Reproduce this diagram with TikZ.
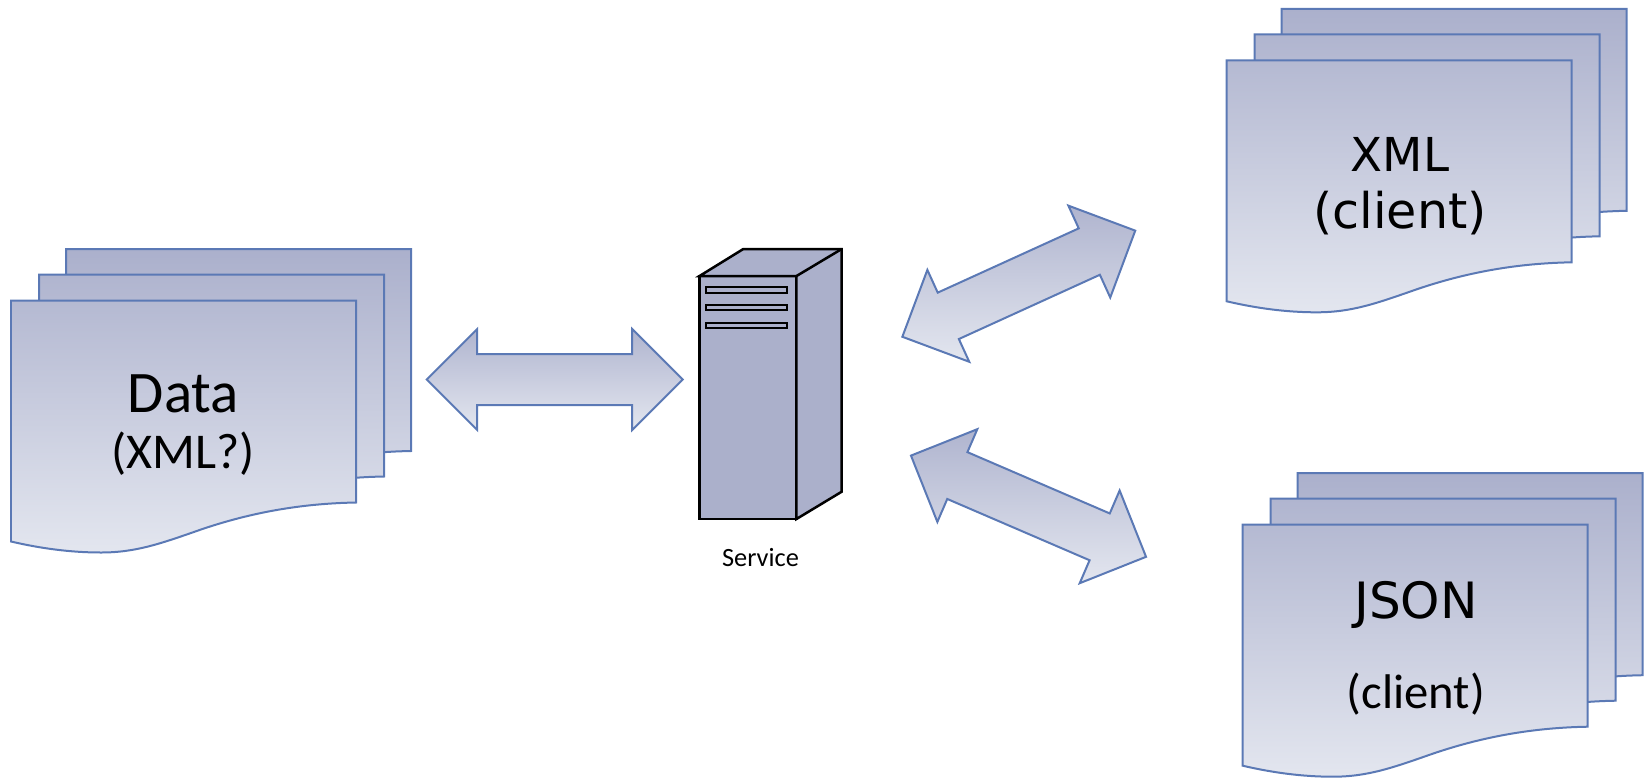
\documentclass[tikz,border=0pt]{standalone}
\usepackage{fontspec}
\setmainfont{Carlito}
\newfontfamily\widefont{DejaVu Sans}
\usetikzlibrary{positioning, shapes.arrows, calc}
\definecolor{sheetdark}{HTML}{ABB0CC}
\definecolor{sheetlight}{HTML}{E3E6EF}
\definecolor{sheetline}{HTML}{5B79B5}
\definecolor{servergrey}{HTML}{ABB0CB}
\begin{document}
\begin{tikzpicture}[
        x=0.02cm, y=-0.02cm,
        sheet/.style={draw=sheetline, line width=0.04cm, line join=miter},
        exchange/.style={draw=sheetline, line width=0.04cm, double arrow, double arrow head extend=0.5cm,
            minimum height=5.12cm, minimum width=2.02cm, inner xsep=0pt, inner ysep=0.49cm,
            top color=sheetdark!92!sheetlight, bottom color=sheetlight},
        servercase/.style={draw=black, line width=0.05cm, fill=servergrey, outer sep=0pt},
        stacklabel/.style={align=center, text=black, inner sep=0pt, font=\fontsize{33.5}{32.3}\selectfont},
        widelabel/.style={stacklabel, font=\widefont\fontsize{26.6}{32.3}\selectfont},
        docstack/.pic={
            \foreach \dx/\dy/\topmix/\botmix in {55/-51.5/0/80, 28/-26/9/90, 0/0/17/100} {
                \draw[sheet, top color=sheetlight!\topmix!sheetdark, bottom color=sheetlight!\botmix!sheetdark, shift={(\dx,\dy)}]
                    (0,0) -- (345,0) -- (345,202)
                    .. controls (290,203) and (240,212) .. (190,229)
                    .. controls (150,243) and (125,252) .. (90,252)
                    .. controls (60,252) and (30,248) .. (0,241) -- cycle;
            }
        }
    ]
    \useasboundingbox (0,0) rectangle (1650,778);

    \pic at (11,300.5) {docstack};
    \pic at (1226.7,60.3) {docstack};
    \pic at (1242.7,524.7) {docstack};

    \node[stacklabel] (Data) at (183.5,425) {Data\\{\fontsize{28.5}{32.3}\selectfont (XML?)}};
    \node[widelabel] (XmlClient) at (1400,186) {XML\\{\fontsize{28}{32.3}\selectfont (client)}};
    \node[widelabel, font=\widefont\fontsize{28.5}{51}\selectfont] (JsonClient) at (1416,648) {JSON\\{\normalfont\fontsize{27.7}{51}\selectfont (client)}};

    \node[exchange] (DataLink) at (554.7,379.5) {};
    \node[exchange, rotate=24.5] (XmlLink) at (1018.8,283.7) {};
    \node[exchange, rotate=-23.3] (JsonLink) at (1028.5,506.2) {};

    \node[servercase, minimum width=1.94cm, minimum height=4.86cm] (Server) at (748,397.5) {};
    \draw[servercase, line join=miter] (Server.north west) -- (743.3,249) -- (841.7,249) -- (841.7,491.7) -- (Server.south east) -- (Server.north east) -- cycle;
    \draw[black, line width=0.05cm] (Server.north east) -- (841.7,249);
    \foreach \slottop/\slotbot in {286.7/292.7, 304.7/309.7, 322.7/328.3} {
        \draw[black, line width=0.04cm] (706.3,\slottop) rectangle (787.3,\slotbot);
    }
    \node[below=0.58cm of Server, xshift=0.25cm, inner sep=0pt, font=\fontsize{15}{17}\selectfont] (ServiceLabel) {Service};
\end{tikzpicture}
\end{document}
